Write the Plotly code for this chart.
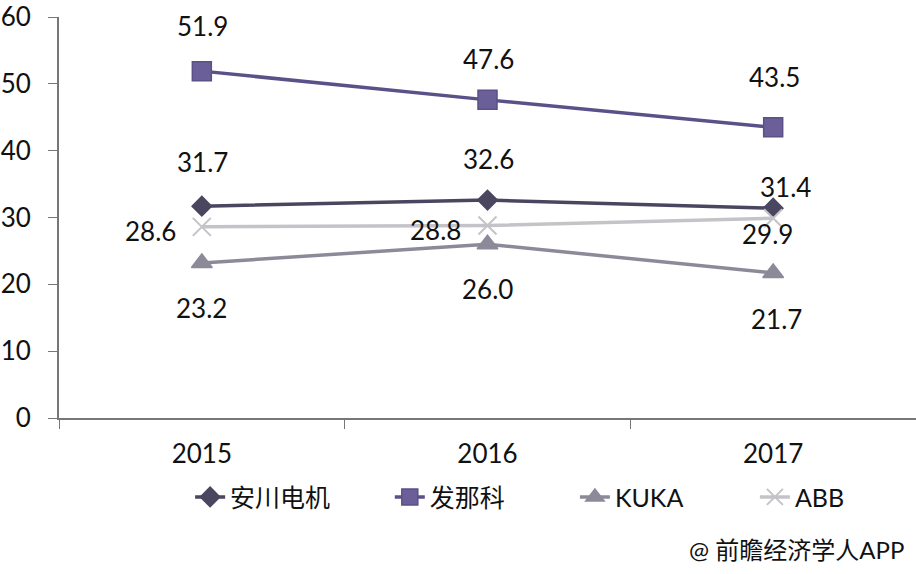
import plotly.graph_objects as go

years = ["2015", "2016", "2017"]
yaskawa = [31.7, 32.6, 31.4]
fanuc = [51.9, 47.6, 43.5]
kuka = [23.2, 26.0, 21.7]
abb = [28.6, 28.8, 29.9]

names = ["安川电机", "发那科", "KUKA", "ABB"]
series = [yaskawa, fanuc, kuka, abb]
colors = ["#4b4660", "#5c5088", "#8c8a99", "#c4c3c8"]
marker_fill = ["#4b4660", "#6a5f98", "#8c8a99", "#c4c3c8"]
symbols = ["diamond", "square", "triangle-up", "x-thin"]
msizes = [15, 19, 18, 18]

# label offsets (px) per series per point
label_shift = [
    [(1, 44), (1, 41), (12, 21)],
    [(1, 45), (1, 41), (1, 50)],
    [(0, -45), (0, -45), (3, -46)],
    [(-51, -4), (-52, -4), (-6, -16)],
]

FONT = "Lato, Noto Sans CJK SC, sans-serif"
legend_ids = ["legend", "legend2", "legend3", "legend4"]
legend_x = [0.153, 0.386, 0.602, 0.812]

fig = go.Figure()
for i, (nm, vals) in enumerate(zip(names, series)):
    fig.add_trace(go.Scatter(
        x=years, y=vals, name=nm, mode="lines+markers", legend=legend_ids[i],
        line=dict(color=colors[i], width=3.5),
        marker=dict(symbol=symbols[i], size=msizes[i], color=marker_fill[i],
                    line=dict(color=colors[i], width=1.5 if symbols[i] != "x-thin" else 2)),
    ))

for i, vals in enumerate(series):
    for j, v in enumerate(vals):
        dx, dy = label_shift[i][j]
        fig.add_annotation(
            x=j, y=v, xref="x", yref="y", text=f"{v:.1f}",
            showarrow=False, xshift=dx, yshift=dy,
            font=dict(family=FONT, size=26, color="#111111"),
        )

fig.add_annotation(
    x=1, y=-0.328, xref="paper", yref="paper", xanchor="right", yanchor="middle",
    xshift=-10, text="@ 前瞻经济学人APP", showarrow=False,
    font=dict(family=FONT, size=24, color="#111111"),
)

legend_common = dict(orientation="h", y=-0.14, xanchor="left", yanchor="top",
                     font=dict(family=FONT, size=25, color="#111111"),
                     bgcolor="rgba(0,0,0,0)")
legends = {lid: dict(legend_common, x=lx) for lid, lx in zip(legend_ids, legend_x)}

fig.update_layout(
    width=916, height=574,
    margin=dict(l=59, r=0, t=13, b=156),
    paper_bgcolor="white", plot_bgcolor="white",
    font=dict(family=FONT, color="#111111"),
    showlegend=True,
    xaxis=dict(type="category", range=[-0.5, 2.5], showline=True, linecolor="#777777",
               linewidth=2, ticks="outside", tickson="boundaries", ticklen=9,
               tickcolor="#777777", showgrid=False, zeroline=False,
               tickfont=dict(family=FONT, size=26, color="#111111"),
               ticklabelstandoff=12),
    yaxis=dict(range=[0, 60], dtick=10, showline=True, linecolor="#777777",
               linewidth=2, ticks="outside", ticklen=9, tickcolor="#777777",
               showgrid=False, zeroline=False, ticklabeloverflow="allow",
               tickfont=dict(family=FONT, size=26, color="#111111"),
               ticklabelstandoff=12),
    **legends,
)

fig.write_html("out.html", config={"displayModeBar": False},
               post_script="document.body.style.margin='0';")
